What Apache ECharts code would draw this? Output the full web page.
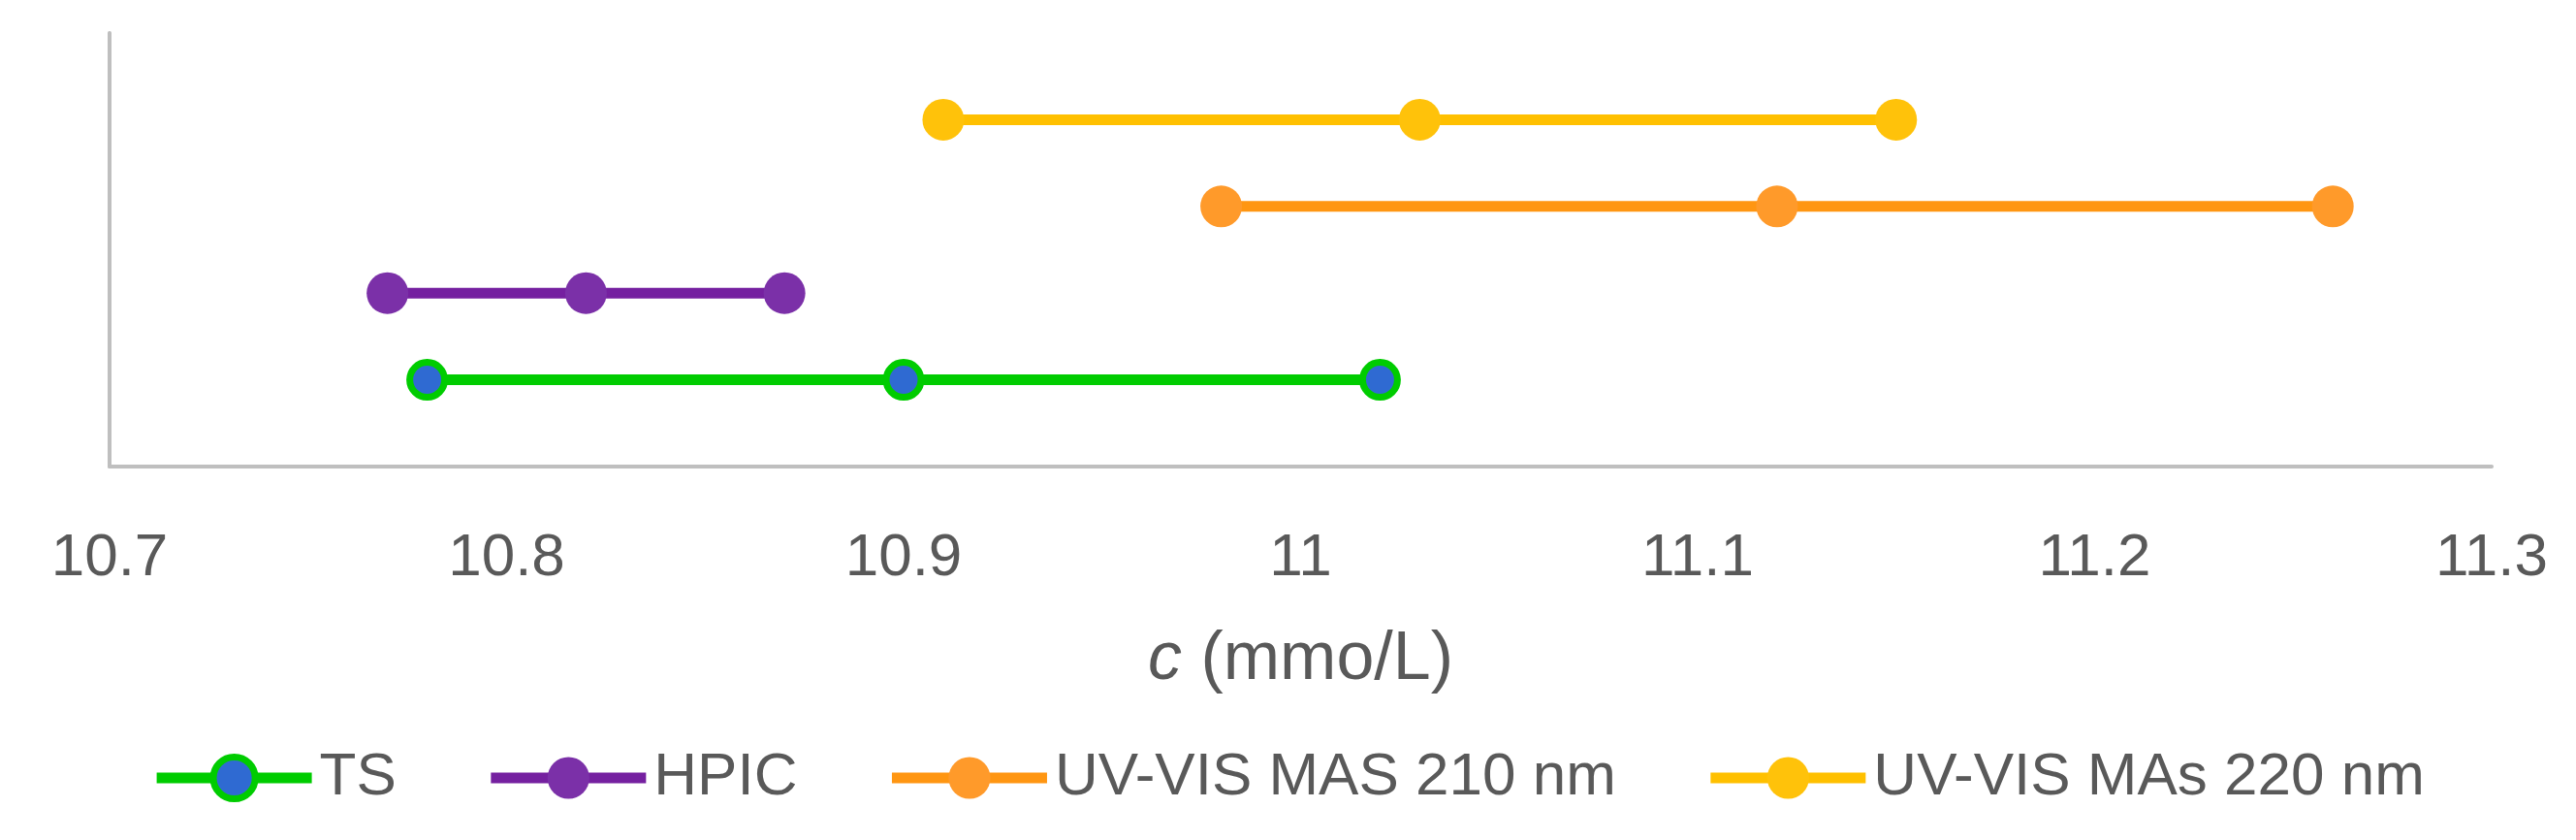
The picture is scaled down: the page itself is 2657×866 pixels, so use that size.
<!DOCTYPE html>
<html>
<head>
<meta charset="utf-8">
<script src="https://cdn.jsdelivr.net/npm/echarts@6/dist/echarts.min.js"></script>
<style>
html,body{margin:0;padding:0;background:#fff;}
#chart{width:2657px;height:866px;}
</style>
</head>
<body>
<div id="chart"></div>
<script>
// ---- data ----
const seriesNames = ['TS', 'HPIC', 'UV-VIS MAS 210 nm', 'UV-VIS MAs 220 nm'];
const rowLevels = [1, 2, 3, 4];
const tsValues = [10.78, 10.90, 11.02];
const hpicValues = [10.77, 10.82, 10.87];
const mas210Values = [10.98, 11.12, 11.26];
const mas220Values = [10.91, 11.03, 11.15];
const xTicks = [10.7, 10.8, 10.9, 11.0, 11.1, 11.2, 11.3];

const valueSets = [tsValues, hpicValues, mas210Values, mas220Values];
const lineColors = ['#00CC00', '#7520A0', '#FF9612', '#FFC000'];
const markerColors = ['#2F6AD2', '#7B30A8', '#FF9A2A', '#FFC20A'];

const FONT = '"Liberation Sans", Arial, sans-serif';
const textGray = '#595959';

const series = valueSets.map((vals, i) => {
  const isTS = i === 0;
  return {
    name: seriesNames[i],
    type: 'line',
    data: vals.map(v => [v, rowLevels[i]]),
    symbol: 'circle',
    symbolSize: isTS ? 36 : 43,
    showSymbol: true,
    lineStyle: { color: lineColors[i], width: 11 },
    itemStyle: isTS
      ? { color: markerColors[i], borderColor: lineColors[i], borderWidth: 7 }
      : { color: markerColors[i], borderWidth: 0 },
    emphasis: { disabled: true },
    z: 2 + i
  };
});

const chart = echarts.init(document.getElementById('chart'), null, { renderer: 'canvas' });
chart.setOption({
  animation: false,
  backgroundColor: '#ffffff',
  grid: { left: 113, right: 87, top: 34, bottom: 385, containLabel: false },
  xAxis: {
    type: 'value',
    min: xTicks[0],
    max: xTicks[xTicks.length - 1],
    interval: 0.1,
    axisLine: { show: true, onZero: false, lineStyle: { color: '#BFBFBF', width: 4 } },
    axisTick: { show: false },
    splitLine: { show: false },
    axisLabel: {
      color: textGray, fontFamily: FONT, fontSize: 62, margin: 64,
      formatter: v => String(Math.round(v * 10) / 10)
    },
    name: '{i|c} (mmo/L)',
    nameLocation: 'middle',
    nameGap: 165,
    nameTextStyle: {
      color: textGray, fontFamily: FONT, fontSize: 70,
      rich: { i: { fontStyle: 'italic', fontFamily: FONT, fontSize: 70, color: textGray } }
    }
  },
  yAxis: {
    type: 'value',
    min: 0,
    max: 5,
    axisLine: { show: true, onZero: false, lineStyle: { color: '#BFBFBF', width: 4 } },
    axisTick: { show: false },
    axisLabel: { show: false },
    splitLine: { show: false }
  },
  legend: {
    top: 766,
    left: 'center',
    itemWidth: 160,
    itemHeight: 54,
    itemGap: 92,
    lineStyle: { width: 11 },
    textStyle: { color: textGray, fontFamily: FONT, fontSize: 62, padding: [0, 0, 0, 3] },
    data: seriesNames.map((n, i) => i === 0
      ? { name: n, itemStyle: { color: markerColors[0], borderColor: lineColors[0], borderWidth: 7 } }
      : { name: n, itemStyle: { color: markerColors[i], borderWidth: 0 } })
  },
  series: series
});
</script>
</body>
</html>
